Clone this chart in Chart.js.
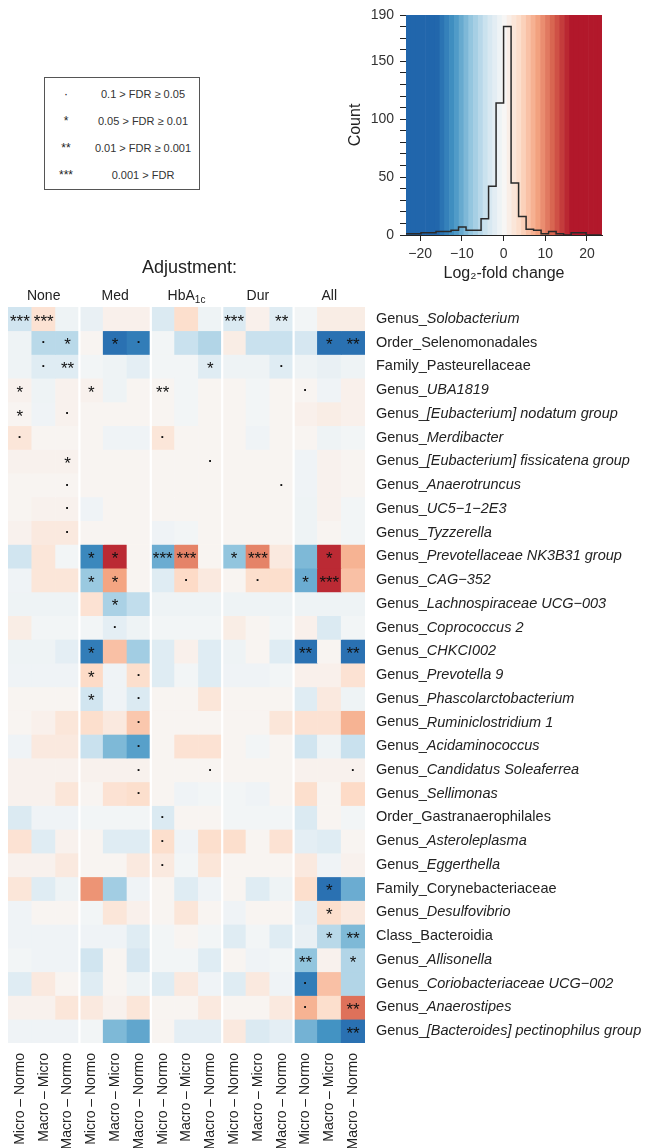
<!DOCTYPE html>
<html>
<head>
<meta charset="utf-8">
<script src="https://cdn.jsdelivr.net/npm/chart.js@4.4.1/dist/chart.umd.min.js"></script>
<style>
  html, body { margin: 0; padding: 0; background: #fff; }
  body { width: 646px; height: 1148px; position: relative; overflow: hidden;
         font-family: "Liberation Sans", Arial, sans-serif; }
  #hist { position: absolute; left: 330px; top: 0; }
  #heat { position: absolute; left: 0; top: 250px; }
  #key { position: absolute; left: 44px; top: 77px; width: 156px; height: 113px;
         border: 1.5px solid #555; box-sizing: border-box; font-size: 11px; color: #333; }
  #key .row { position: absolute; left: 0; width: 100%; height: 14px; line-height: 14px; }
  #key .sym { position: absolute; left: 0; width: 42px; text-align: center; color: #222;
              font-size: 12px; }
  #key .txt { position: absolute; left: 42px; width: 112px; text-align: center; }
</style>
</head>
<body>
<div id="key">
  <div class="row" style="top:9px"><span class="sym">·</span><span class="txt">0.1 &gt; FDR ≥ 0.05</span></div>
  <div class="row" style="top:36px"><span class="sym">*</span><span class="txt">0.05 &gt; FDR ≥ 0.01</span></div>
  <div class="row" style="top:63px"><span class="sym">**</span><span class="txt">0.01 &gt; FDR ≥ 0.001</span></div>
  <div class="row" style="top:90px"><span class="sym">***</span><span class="txt">0.001 &gt; FDR</span></div>
</div>
<canvas id="hist" width="316" height="292"></canvas>
<canvas id="heat" width="646" height="898"></canvas>
<script>
// Differential abundance heatmap (log2-fold change per comparison and
// adjustment set) plus the histogram of all fold changes above it.

// ---- data ----------------------------------------------------------------

const groups = ["None", "Med", "HbA1c", "Dur", "All"];
const comparisons = ["Micro – Normo", "Macro – Micro", "Macro – Normo"];

const taxonRank = [
  "Genus", "Order", "Family", "Genus", "Genus", "Genus", "Genus", "Genus",
  "Genus", "Genus", "Genus", "Genus", "Genus", "Genus", "Genus", "Genus",
  "Genus", "Genus", "Genus", "Genus", "Genus", "Order", "Genus", "Genus",
  "Family", "Genus", "Class", "Genus", "Genus", "Genus", "Genus",
];
const taxonName = [
  "Solobacterium", "Selenomonadales", "Pasteurellaceae", "UBA1819",
  "[Eubacterium] nodatum group", "Merdibacter", "[Eubacterium] fissicatena group",
  "Anaerotruncus", "UC5\u22121\u22122E3", "Tyzzerella", "Prevotellaceae NK3B31 group",
  "CAG\u2212352", "Lachnospiraceae UCG\u2212003", "Coprococcus 2", "CHKCI002",
  "Prevotella 9", "Phascolarctobacterium", "Ruminiclostridium 1", "Acidaminococcus",
  "Candidatus Soleaferrea", "Sellimonas", "Gastranaerophilales", "Asteroleplasma",
  "Eggerthella", "Corynebacteriaceae", "Desulfovibrio", "Bacteroidia", "Allisonella",
  "Coriobacteriaceae UCG\u2212002", "Anaerostipes", "[Bacteroides] pectinophilus group",
];

// log2-fold change, one [Micro-Normo, Macro-Micro, Macro-Normo] triplet per taxon
const lfcNone = [
  [-4, 3, -1], [-1, -5.5, -5.5], [-1, -2.5, -2.5], [0.8, -1, 0.8], [0.5, -0.8, 0.8],
  [2.5, 0.5, 0.5], [0.8, 0.8, 0.8], [0.5, 0.5, 0.5], [0.5, 0.8, 0.8], [0.8, 2, 2],
  [-4, 2.5, -0.5], [-0.8, 2.5, 2.5], [-1, -1, -1], [1.5, -0.5, -0.5], [-1, -1, -2],
  [-0.8, -0.8, -0.8], [0.5, 0.5, 0.5], [0.5, 1, 2.5], [-0.8, 2, 2], [0.8, 0.8, 0.8],
  [0.8, 0.8, 2.5], [-3, -0.8, -0.8], [3, -2.5, 0.8], [0.8, 0.8, 2], [2.5, -2.5, -1],
  [-0.8, 0.5, 0.5], [-0.8, -0.8, -0.8], [-0.5, -0.8, -0.8], [-2.5, 2, 0.5],
  [0.8, 0.8, 2.5], [-0.8, -0.8, -0.8],
];
const lfcMed = [
  [-1.5, 1, 1], [0.5, -15, -14], [-0.5, -1, -2], [0.8, -1, 0.5], [0.5, 0.5, 0.5],
  [0.5, -0.8, -0.8], [0.5, 0.5, 0.5], [0.5, 0.5, 0.5], [-0.8, 0.5, 0.5], [0.5, 0.5, 0.5],
  [-13, 15, 0.5], [-7.5, 8, 0.5], [3, -6.5, -5], [-0.5, -2, -1], [-14, 6, -7],
  [4, -0.8, 3.5], [-4, -0.8, -3], [3.5, 2, 5.5], [-4.5, -9, -11], [0.8, 0.8, 0.8],
  [0.5, 3, 3.5], [-0.5, -0.5, -0.5], [0.5, -2.5, -2.5], [0.5, 0.5, 2], [9, -7, -0.8],
  [-0.5, 2.5, 1], [-0.8, -0.8, -2.5], [-4, 0.5, -3.5], [-2.5, 0.5, -1], [2, 0.8, 2.5],
  [-0.5, -9, -10.5],
];
const lfcHbA = [
  [-3, 3.5, -1], [-0.5, -4.5, -6], [-0.5, -0.5, -2.5], [0.5, -0.5, 0.5], [0.5, -0.5, 0.5],
  [2.5, 0.5, 0.5], [0.5, 0.5, 0.5], [0.5, 0.5, 0.5], [0.5, 0.5, 0.5], [-0.8, -0.5, 0.5],
  [-10, 10, 0.5], [-2.5, 4, 2], [-1, -1, -1], [-0.5, -0.5, -0.5], [-2.5, 1, -2.5],
  [-2.5, -0.5, -2.5], [0.5, 0.5, 2.5], [0.5, 0.5, 0.5], [0.5, 3, 3], [0.5, 0.5, 0.5],
  [0.5, -0.8, -0.5], [-3, 0.5, 0.5], [3.5, -0.8, 3.5], [2, -0.5, 2.5], [0.5, -2.5, -0.8],
  [0.5, 2.5, 0.5], [-0.5, 0.5, -0.5], [-0.5, -0.5, -2.5], [-2.5, 2, -0.8], [0.5, 0.5, 2],
  [0.5, -2, -2],
];
const lfcDur = [
  [-3, 1, -2.5], [1.5, -4.5, -4.5], [-1, -1, -2.5], [0.5, -0.5, 0.5], [0.5, -0.5, 0.5],
  [0.5, -0.8, 0.5], [0.5, 0.5, 0.5], [0.5, 0.5, 0.5], [0.5, 0.5, 0.5], [0.5, 0.5, 0.5],
  [-8, 10, 2], [0.5, 3.5, 3.5], [-1, -1, -1], [1.5, 0.5, -0.5], [-1, 0.5, -2.5],
  [-0.8, -0.8, -0.5], [0.5, 0.5, 0.5], [0.5, 0.5, 2.5], [0.5, -0.5, 0.5], [0.5, 0.5, 0.5],
  [-0.5, -0.8, 0.5], [-0.5, -0.5, -0.5], [3.5, 0.5, 3], [0.5, 0.5, 0.5], [0.5, -2.5, -1],
  [-0.8, 0.5, 0.5], [-2.5, -0.5, -2.5], [0.5, -0.8, -0.5], [-2.5, 2, -0.8], [0.5, 0.5, 2],
  [2, -3, -2],
];
const lfcAll = [
  [-0.5, 1.5, 1.5], [-3.5, -15, -15], [-1, -1.5, -1], [0.5, -0.8, 1], [1, 1.5, 1],
  [0.5, -1, -0.5], [-0.8, 0.8, 0.5], [-0.8, 0.8, 0.5], [-1, 0.8, -0.5], [-1, 0.5, -0.5],
  [-9, 15, 7], [-10, 15, 6], [-1, -1, -1], [1, -3, -0.5], [-15, 0.5, -15],
  [1, 1, 3], [-2.5, 2, -1], [3, 3, 7], [-4, -1, -4.5], [0.8, 0.8, 0.8],
  [3.5, 0.5, 4], [-3, 0.5, -0.5], [-2, -2.5, 0.5], [2, -0.8, 0.8], [3.5, -15, -10],
  [-2, 3.5, 2], [-1.5, -5.5, -9], [-8, 0.8, -6], [-14, 6, -6], [7, 3.5, 11],
  [-9.5, -12, -15],
];

// FDR class per cell: 0 none, 1 ·, 2 *, 3 **, 4 ***
const sigNone = ["440","012","013","200","201","100","002","001","001","001","000",
  "000","000","000","000","000","000","000","000","000","000","000","000","000","000",
  "000","000","000","000","000","000"];
const sigMed = ["000","021","000","200","000","000","000","000","000","000","220",
  "220","020","010","200","201","201","001","001","001","001","000","000","000","000",
  "000","000","000","000","000","000"];
const sigHbA = ["000","000","002","300","000","100","001","000","000","000","440",
  "010","000","000","000","000","000","000","000","001","000","100","100","100","000",
  "000","000","000","000","000","000"];
const sigDur = ["403","000","001","000","000","000","000","001","000","000","240",
  "010","000","000","000","000","000","000","000","000","000","000","000","000","000",
  "000","000","000","000","000","000"];
const sigAll = ["000","023","000","100","000","000","000","000","000","000","020",
  "240","000","000","303","000","000","000","000","001","000","000","000","000","020",
  "020","023","302","100","103","003"];

const sigMarks = ["", "·", "*", "**", "***"];

// histogram of all log2-fold changes
const histBreaks = [-23.4, -21.6, -19.8, -18, -16.2, -14.4, -12.6, -10.8, -9, -7.2,
  -5.4, -3.6, -1.8, 0, 1.8, 3.6, 5.4, 7.2, 9, 10.8, 12.6, 14.4, 16.2, 18, 19.8, 21.6, 23.4];
const histCounts = [1, 1, 2, 2, 3, 3, 4, 7, 4, 4, 14, 42, 114,
  180, 45, 16, 5, 4, 1, 3, 1, 0, 2, 2, 0, 0];
const histTicks = [-20, -10, 0, 10, 20];
const countLabels = [0, 50, 100, 150, 190];

// ---- colour scale (RdBu, saturating at ±16) -------------------------------

const RDBU = [
  [-16, [33, 102, 172]], [-12, [67, 147, 195]], [-8, [146, 197, 222]],
  [-4, [209, 229, 240]], [0, [247, 247, 247]], [4, [253, 219, 199]],
  [8, [244, 165, 130]], [12, [214, 96, 77]], [16, [178, 24, 43]],
];

function lfcColor(v) {
  v = Math.max(-16, Math.min(16, v));
  for (let i = 0; i < RDBU.length - 1; i++) {
    const [a, ca] = RDBU[i], [b, cb] = RDBU[i + 1];
    if (v <= b) {
      const t = (v - a) / (b - a);
      const c = ca.map((x, k) => Math.round(x + (cb[k] - x) * t));
      return `rgb(${c[0]},${c[1]},${c[2]})`;
    }
  }
  return "rgb(178,24,43)";
}

const FONT = "'Liberation Sans', Arial, sans-serif";
Chart.defaults.font.family = FONT;
Chart.defaults.color = "#222";
Chart.defaults.animation = false;

// ---- histogram -----------------------------------------------------------

const bandBackdrop = {
  id: "bandBackdrop",
  beforeDatasetsDraw(chart) {
    const { ctx, chartArea: a, scales: { x } } = chart;
    const step = 1.15;
    ctx.save();
    ctx.beginPath();
    ctx.rect(a.left, a.top, a.right - a.left, a.bottom - a.top);
    ctx.clip();
    for (let v = x.min; v < x.max; v += step) {
      const x0 = x.getPixelForValue(v), x1 = x.getPixelForValue(v + step);
      ctx.fillStyle = lfcColor(v + step / 2);
      ctx.fillRect(x0, a.top, x1 - x0 + 0.6, a.bottom - a.top);
    }
    ctx.restore();
  },
};

const histPoints = histCounts.map((n, i) => ({ x: histBreaks[i], y: n }));
histPoints.push({ x: histBreaks[histBreaks.length - 1], y: 0 });

new Chart(document.getElementById("hist"), {
  type: "line",
  data: {
    datasets: [{
      data: histPoints,
      stepped: true,
      borderColor: "#2a2a2a",
      borderWidth: 1.5,
      pointRadius: 0,
      fill: false,
    }],
  },
  options: {
    responsive: false,
    events: [],
    layout: { padding: { left: 16, right: 44, top: 15, bottom: 9 } },
    plugins: { legend: { display: false }, tooltip: { enabled: false } },
    scales: {
      x: {
        type: "linear", min: -23.4, max: 23.6,
        afterBuildTicks: (s) => { s.ticks = histTicks.map((v) => ({ value: v })); },
        afterFit: (s) => { s.height = 48; },
        grid: { drawOnChartArea: false, tickLength: 6, color: "#222" },
        border: { color: "#222", width: 1 },
        ticks: {
          font: { size: 14 }, color: "#333", padding: 5, maxRotation: 0,
          callback: (v) => String(v).replace("-", "\u2212"),
        },
        title: { display: true, text: "Log\u2082-fold change", font: { size: 16 }, color: "#222",
                 padding: { top: 0, bottom: 0 } },
      },
      y: {
        min: 0, max: 190,
        afterFit: (s) => { s.width = 60; },
        grid: { drawOnChartArea: false, tickLength: 6, color: "#222" },
        border: { color: "#222", width: 1 },
        ticks: {
          stepSize: 10, autoSkip: false, font: { size: 14 }, color: "#333", padding: 6,
          callback: (v) => (countLabels.includes(v) ? String(v) : ""),
        },
        title: { display: true, text: "Count", font: { size: 16 }, color: "#222",
                 padding: { top: 0, bottom: 2 } },
      },
    },
  },
  plugins: [bandBackdrop],
});

// ---- heatmap -------------------------------------------------------------

const lfcGroups = [lfcNone, lfcMed, lfcHbA, lfcDur, lfcAll];
const sigGroups = [sigNone, sigMed, sigHbA, sigDur, sigAll];
const columnLabels = groups.flatMap(() => comparisons);

function cellValue(r, c) { return lfcGroups[Math.floor(c / 3)][r][c % 3]; }
function cellSig(r, c) { return Number(sigGroups[Math.floor(c / 3)][r][c % 3]); }

const heatDatasets = taxonName.map((name, r) => ({
  label: name,
  data: columnLabels.map(() => [r - 0.5, r + 0.5]),
  backgroundColor: columnLabels.map((_, c) => lfcColor(cellValue(r, c))),
  borderWidth: 0,
  barPercentage: 1,
  categoryPercentage: 1,
  grouped: false,
}));

const heatDecor = {
  id: "heatDecor",
  afterDatasetsDraw(chart) {
    const { ctx, chartArea: a, scales: { x, y } } = chart;
    const half = (x.getPixelForValue(1) - x.getPixelForValue(0)) / 2;
    ctx.save();

    // white gutters between adjustment sets
    ctx.strokeStyle = "#fff";
    ctx.lineWidth = 2.2;
    for (let g = 1; g < groups.length; g++) {
      const px = x.getPixelForValue(g * 3) - half;
      ctx.beginPath(); ctx.moveTo(px, a.top); ctx.lineTo(px, a.bottom + 1); ctx.stroke();
    }

    // significance marks
    ctx.fillStyle = "#111";
    ctx.textAlign = "center";
    ctx.textBaseline = "middle";
    taxonName.forEach((_, r) => {
      const py = y.getPixelForValue(r);
      columnLabels.forEach((__, c) => {
        const s = cellSig(r, c);
        if (!s) return;
        const px = x.getPixelForValue(c);
        if (s === 1) {
          ctx.font = `bold 13px ${FONT}`;
          ctx.fillText(sigMarks[s], px, py);
        } else {
          ctx.font = `17px ${FONT}`;
          ctx.fillText(sigMarks[s], px, py + 3);
        }
      });
    });

    // taxon labels, genus names in italics
    ctx.textAlign = "left";
    ctx.fillStyle = "#222";
    taxonName.forEach((name, r) => {
      const py = y.getPixelForValue(r);
      const prefix = taxonRank[r] + "_";
      ctx.font = `14.5px ${FONT}`;
      const px = a.right + 11;
      ctx.fillText(prefix, px, py);
      const w = ctx.measureText(prefix).width;
      ctx.font = (taxonRank[r] === "Genus" ? "italic " : "") + `14.5px ${FONT}`;
      ctx.fillText(name, px + w, py);
    });

    // adjustment headers
    ctx.textAlign = "center";
    ctx.font = `18px ${FONT}`;
    ctx.fillText("Adjustment:", (a.left + a.right) / 2 + 3, a.top - 39);
    groups.forEach((g, i) => {
      const px = x.getPixelForValue(i * 3 + 1);
      const py = a.top - 11;
      if (g === "HbA1c") {
        ctx.font = `14px ${FONT}`;
        const w1 = ctx.measureText("HbA").width;
        ctx.font = `10px ${FONT}`;
        const w2 = ctx.measureText("1c").width;
        const x0 = px - (w1 + w2) / 2;
        ctx.textAlign = "left";
        ctx.font = `14px ${FONT}`;
        ctx.fillText("HbA", x0, py);
        ctx.font = `10px ${FONT}`;
        ctx.fillText("1c", x0 + w1, py + 4);
        ctx.textAlign = "center";
      } else {
        ctx.font = `14px ${FONT}`;
        ctx.fillText(g, px, py);
      }
    });
    ctx.restore();
  },
};

new Chart(document.getElementById("heat"), {
  type: "bar",
  data: { labels: columnLabels, datasets: heatDatasets },
  options: {
    responsive: false,
    events: [],
    layout: { padding: { left: 8, right: 281, top: 57, bottom: 0 } },
    plugins: { legend: { display: false }, tooltip: { enabled: false } },
    scales: {
      x: {
        afterFit: (s) => { s.height = 105; },
        grid: { display: false },
        border: { display: false },
        ticks: { autoSkip: false, minRotation: 90, maxRotation: 90, padding: 2,
                 font: { size: 14 }, color: "#222" },
      },
      y: {
        type: "linear", min: -0.5, max: taxonName.length - 0.5, reverse: true,
        display: false,
      },
    },
  },
  plugins: [heatDecor],
});
</script>
</body>
</html>
